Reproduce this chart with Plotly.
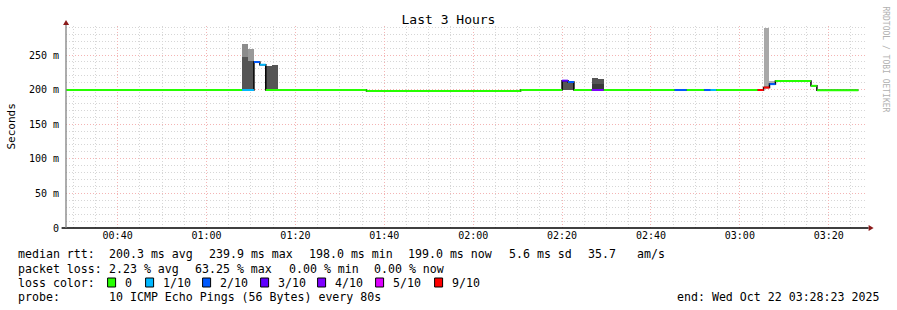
import plotly.graph_objects as go
from datetime import datetime, timedelta

DAY = "2025-10-22 "
STEP_S = 80

# median rtt segments (start, end, median ms, lost pings out of 10)
seg_start = ["00:28:00", "01:08:00", "01:10:40", "01:12:00", "01:13:20", "01:36:00", "02:10:40",
             "02:20:00", "02:21:20", "02:22:40", "02:26:40", "02:29:20", "02:45:20", "02:48:00",
             "02:52:00", "02:53:20", "02:54:40", "03:04:00", "03:05:20", "03:06:40", "03:08:00",
             "03:16:00", "03:17:20"]
seg_end = ["01:08:00", "01:10:40", "01:12:00", "01:13:20", "01:36:00", "02:10:40", "02:20:00",
           "02:21:20", "02:22:40", "02:26:40", "02:29:20", "02:45:20", "02:48:00", "02:52:00",
           "02:53:20", "02:54:40", "03:04:00", "03:05:20", "03:06:40", "03:08:00", "03:16:00",
           "03:17:20", "03:26:40"]
seg_median = [199.5, 199.5, 239.9, 236.0, 199.5, 198.0, 199.5,
              213.0, 211.0, 199.5, 199.5, 199.5, 199.5, 199.5,
              199.5, 199.5, 199.5, 199.5, 203.0, 208.0, 212.5,
              205.5, 199.0]
seg_loss = [0, 1, 2, 1, 0, 0, 0,
            3, 2, 0, 4, 0, 2, 0,
            2, 1, 0, 9, 9, 2, 0,
            0, 0]

# smoke (ping spread) per 80 s step
outer_start = ["01:08:00", "01:09:20", "03:05:20", "03:06:40"]
outer_lo = [199.5, 199.5, 203.0, 208.0]
outer_hi = [266.0, 259.0, 289.0, 213.0]
outer_col = ["#8c8c8c", "#999999", "#a8a8a8", "#b0b0b0"]

inner_start = ["01:08:00", "01:09:20", "01:13:20", "01:14:40", "02:20:00", "02:21:20", "02:26:40", "02:28:00"]
inner_lo = [199.5, 199.5, 199.5, 199.5, 199.5, 199.5, 199.5, 199.5]
inner_hi = [247.0, 242.0, 234.0, 236.0, 212.0, 211.0, 217.0, 216.0]

core_start = ["02:26:40", "02:28:00"]
core_lo = [199.5, 199.5]
core_hi = [208.0, 208.0]

loss_levels = [0, 1, 2, 3, 4, 5, 9]
loss_labels = ["0", "1/10", "2/10", "3/10", "4/10", "5/10", "9/10"]
loss_colors = ["#26ff00", "#00b8ff", "#0059ff", "#5e00ff", "#7e00ff", "#dd00ff", "#ff0000"]

y_ticks = [0, 50, 100, 150, 200, 250]
y_ticktext = ["0", "50 m", "100 m", "150 m", "200 m", "250 m"]

x_start = DAY + "00:28:23"
x_end = DAY + "03:28:23"

# ---------------- geometry ----------------
W, H = 897, 310
PL, PR, PT, PB = 66.4, 866.4, 26, 228
FONT = "DejaVu Sans Mono"
LEG_SIZE = 11.6


def ts(s):
    return datetime.strptime(DAY + s, "%Y-%m-%d %H:%M:%S")


def px2paper_x(px):
    return (px - PL) / (PR - PL)


def px2paper_y(py):
    return (PB - py) / (PB - PT)


fig = go.Figure()


def smoke(starts, lo, hi, colors):
    centers = [ts(s) + timedelta(seconds=STEP_S / 2) for s in starts]
    fig.add_trace(go.Bar(x=centers, base=lo, y=[h - l for h, l in zip(hi, lo)],
                         width=STEP_S * 1000, marker=dict(color=colors, line=dict(width=0)),
                         showlegend=False, hoverinfo="skip"))


smoke(outer_start, outer_lo, outer_hi, outer_col)
smoke(inner_start, inner_lo, inner_hi, ["#555555"] * len(inner_start))
smoke(core_start, core_lo, core_hi, ["#3a3a3a"] * len(core_start))

# black connecting step line
bx = [ts(s) for s in seg_start] + [ts(seg_end[-1])]
by = seg_median + [seg_median[-1]]
fig.add_trace(go.Scatter(x=bx, y=by, mode="lines", line=dict(color="#000000", width=1.5, shape="hv"),
                         showlegend=False, hoverinfo="skip"))

# coloured median by loss
for lvl, col in zip(loss_levels, loss_colors):
    xs, ys = [], []
    for s, e, m, l in zip(seg_start, seg_end, seg_median, seg_loss):
        if l == lvl:
            xs += [ts(s), ts(e), None]
            ys += [m, m, None]
    if xs:
        fig.add_trace(go.Scatter(x=xs, y=ys, mode="lines", line=dict(color=col, width=2),
                                 showlegend=False, hoverinfo="skip"))

MAJOR = "#f4b4b4"
MINOR = "#d6d6d6"
DASH = "1px,2px"

fig.update_layout(
    width=W, height=H,
    margin=dict(l=PL, r=W - PR, t=PT, b=H - PB, pad=0),
    paper_bgcolor="white", plot_bgcolor="white",
    font=dict(family=FONT, size=10, color="#000000"),
    barmode="overlay", bargap=0,
    title=dict(text="Last 3 Hours", x=0.5, xref="container", xanchor="center",
               y=1 - 19 / H, yref="container", yanchor="middle",
               font=dict(family=FONT, size=13, color="#000000")),
    xaxis=dict(type="date", range=[x_start, x_end], tick0=DAY + "00:00:00", dtick=20 * 60 * 1000,
               tickformat="%H:%M", showgrid=True, gridcolor=MAJOR, griddash=DASH, gridwidth=1,
               minor=dict(dtick=5 * 60 * 1000, tick0=DAY + "00:00:00", showgrid=True,
                          gridcolor=MINOR, griddash=DASH, gridwidth=1),
               zeroline=False, showline=False, ticks="", tickfont=dict(family=FONT, size=10)),
    yaxis=dict(range=[0, 292], tickvals=y_ticks, ticktext=y_ticktext, showgrid=True,
               gridcolor=MAJOR, griddash=DASH, gridwidth=1, ticklabelstandoff=6,
               minor=dict(dtick=10, tick0=0, showgrid=True, gridcolor=MINOR, griddash=DASH, gridwidth=1),
               zeroline=False, showline=False, ticks="", tickfont=dict(family=FONT, size=10)),
)

shapes = []
# axes lines
shapes.append(dict(type="line", xref="paper", yref="paper", x0=px2paper_x(62), x1=px2paper_x(869),
                   y0=0, y1=0, line=dict(color="#000000", width=1.3)))
shapes.append(dict(type="line", xref="paper", yref="paper", x0=0, x1=0, y0=0, y1=px2paper_y(24),
                   line=dict(color="#808080", width=1.3)))
# arrows
ARROW = "#8b1a1a"
ax0, ay0 = px2paper_x(66.4), px2paper_y(20)
shapes.append(dict(type="path", xref="paper", yref="paper",
                   path=f"M {px2paper_x(63.5)} {px2paper_y(25)} L {px2paper_x(69.5)} {px2paper_y(25)} L {ax0} {ay0} Z",
                   fillcolor=ARROW, line=dict(width=0)))
shapes.append(dict(type="path", xref="paper", yref="paper",
                   path=f"M {px2paper_x(869)} {px2paper_y(225)} L {px2paper_x(869)} {px2paper_y(231)} L {px2paper_x(874)} {px2paper_y(228)} Z",
                   fillcolor=ARROW, line=dict(width=0)))

ann = []


def text(px, py, s, anchor="left", size=LEG_SIZE, color="#000000", angle=0):
    ann.append(dict(xref="paper", yref="paper", x=px2paper_x(px), y=px2paper_y(py), text=s,
                    showarrow=False, xanchor=anchor, yanchor="middle", textangle=angle,
                    font=dict(family=FONT, size=size, color=color)))


# y axis title
text(11, 127, "Seconds", anchor="center", size=11, angle=-90)
# watermark
text(886, 59, "RRDTOOL / TOBI OETIKER", anchor="center", size=8, color="#b0b0b0", angle=90)

# legend lines
L1, L2, L3, L4 = 254.5, 268.5, 282.5, 296.5
for px, s in [(16, "median rtt:"), (107, "200.3 ms avg"), (207, "239.9 ms max"), (307, "198.0 ms min"),
              (406, "199.0 ms now"), (507, "5.6 ms sd"), (586, "35.7"), (635, "am/s")]:
    text(px, L1, s)
for px, s in [(16, "packet loss:"), (107, "2.23 % avg"), (193, "63.25 % max"), (287, "0.00 % min"),
              (372, "0.00 % now")]:
    text(px, L2, s)
text(16, L3, "loss color:")
box_x = [108, 146, 203, 261, 318, 376, 435]
for bxp, lab, col in zip(box_x, loss_labels, loss_colors):
    shapes.append(dict(type="rect", xref="paper", yref="paper", x0=px2paper_x(bxp), x1=px2paper_x(bxp + 8),
                       y0=px2paper_y(287), y1=px2paper_y(278), fillcolor=col,
                       line=dict(color="#000000", width=1)))
    text(bxp + 15, L3, lab)
text(16, L4, "probe:")
text(107, L4, "10 ICMP Echo Pings (56 Bytes) every 80s")
text(881, L4, "end: Wed Oct 22 03:28:23 2025", anchor="right")

fig.update_layout(shapes=shapes, annotations=ann)
fig.write_html("out.html")
